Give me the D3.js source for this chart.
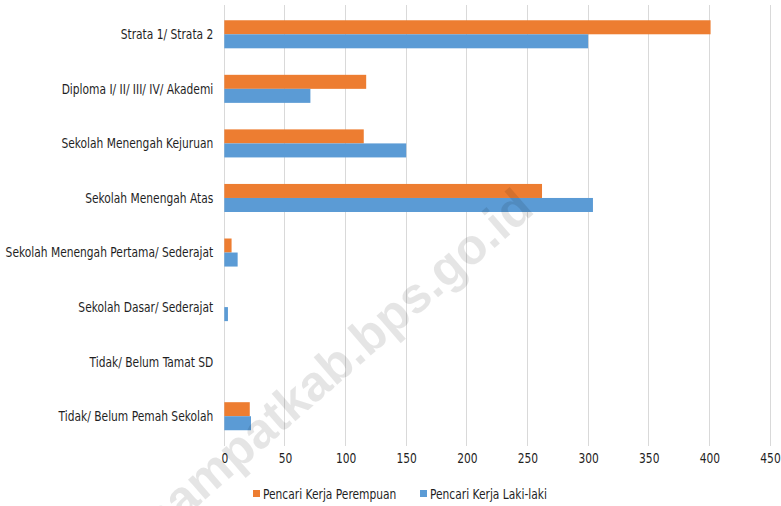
<!DOCTYPE html>
<html>
<head>
<meta charset="utf-8">
<script src="https://cdn.jsdelivr.net/npm/d3@7/dist/d3.min.js"></script>
<style>
  html, body { margin: 0; padding: 0; background: #fff; }
  svg { display: block; }
  text.lbl { font-family: "DejaVu Sans Condensed", "DejaVu Sans", sans-serif; }
</style>
</head>
<body>
<svg id="chart" width="781" height="506"></svg>
<script>
const categories = [
  "Strata 1/ Strata 2",
  "Diploma I/ II/ III/ IV/ Akademi",
  "Sekolah Menengah Kejuruan",
  "Sekolah Menengah Atas",
  "Sekolah Menengah Pertama/ Sederajat",
  "Sekolah Dasar/ Sederajat",
  "Tidak/ Belum Tamat SD",
  "Tidak/ Belum Pemah Sekolah"
];
const seriesNames = ["Pencari Kerja Perempuan", "Pencari Kerja Laki-laki"];
const perempuan = [401, 117, 115, 262, 6, 0, 0, 21];
const lakilaki  = [300, 71, 150, 304, 11, 3, 0, 22];
const xTicks = [0, 50, 100, 150, 200, 250, 300, 350, 400, 450];
const colors = ["#ED7D31", "#5B9BD5"];
const watermark = "rajaampatkab.bps.go.id";

const svg = d3.select("#chart");
const margin = { left: 224.3, right: 11, top: 7, bottom: 62.5 };
const W = 781, H = 506;
const textColor = "#1f1f1f";
const fs = 14;

const x = d3.scaleLinear().domain([0, 450]).range([margin.left, W - margin.right]);
const y = d3.scaleBand().domain(categories).range([margin.top, H - margin.bottom]).paddingInner(0.486).paddingOuter(0.243);
const inner = d3.scaleBand().domain(seriesNames).range([0, y.bandwidth()]);

// gridlines
svg.append("g").selectAll("line").data(xTicks).join("line")
  .attr("x1", d => x(d)).attr("x2", d => x(d))
  .attr("y1", 5).attr("y2", H - margin.bottom + 2)
  .attr("stroke", "#d9d9d9").attr("stroke-width", 1)
  .attr("shape-rendering", "crispEdges");

// bars
const data = categories.map((c, i) => ({ c, vals: [perempuan[i], lakilaki[i]] }));
const groups = svg.append("g").selectAll("g").data(data).join("g")
  .attr("transform", d => `translate(0,${y(d.c)})`);
groups.selectAll("rect").data(d => d.vals.map((v, j) => ({ v, s: seriesNames[j], j })))
  .join("rect")
  .attr("x", x(0))
  .attr("y", d => inner(d.s))
  .attr("width", d => x(d.v) - x(0))
  .attr("height", inner.bandwidth())
  .attr("fill", d => colors[d.j]);

// condensing factor: longest label should span ~208px like the reference
const probe = svg.append("text").attr("class", "lbl").attr("font-size", fs).text(categories[4]);
const k = 208 / probe.node().getComputedTextLength();
probe.remove();

// category labels
svg.append("g").selectAll("text").data(categories).join("text")
  .attr("class", "lbl")
  .attr("transform", d => `translate(${margin.left - 11},${y(d) + y.bandwidth() / 2}) scale(${k},1)`)
  .attr("dy", "0.35em")
  .attr("text-anchor", "end")
  .attr("font-size", fs)
  .attr("fill", textColor)
  .text(d => d);

// x axis
const xAxis = d3.axisBottom(x).tickValues(xTicks).tickSize(0).tickPadding(0);
const ax = svg.append("g").attr("transform", `translate(0,${H - margin.bottom})`).call(xAxis);
ax.select(".domain").remove();
ax.selectAll(".tick text")
  .attr("class", "lbl")
  .attr("y", 0).attr("dy", 0)
  .attr("transform", `translate(0,19) scale(${k},1)`)
  .attr("font-size", fs)
  .attr("font-family", null)
  .attr("fill", textColor);

// legend
const legendItems = [
  { name: seriesNames[0], color: colors[0], x: 253 },
  { name: seriesNames[1], color: colors[1], x: 420 }
];
const lg = svg.append("g").selectAll("g").data(legendItems).join("g")
  .attr("transform", d => `translate(${d.x},494)`);
lg.append("rect").attr("x", 0).attr("y", -4).attr("width", 7).attr("height", 7).attr("fill", d => d.color);
lg.append("text").attr("class", "lbl")
  .attr("transform", `translate(10,0) scale(${k},1)`)
  .attr("dy", "0.35em")
  .attr("font-size", fs).attr("fill", textColor).text(d => d.name);

// watermark
svg.append("text")
  .attr("transform", "translate(536,212) rotate(-41)")
  .attr("text-anchor", "end")
  .attr("font-size", 50)
  .attr("font-weight", "bold")
  .style("font-family", '"Liberation Sans", Arial, sans-serif')
  .attr("fill", "#000")
  .attr("fill-opacity", 0.1)
  .text(watermark);
</script>
</body>
</html>
